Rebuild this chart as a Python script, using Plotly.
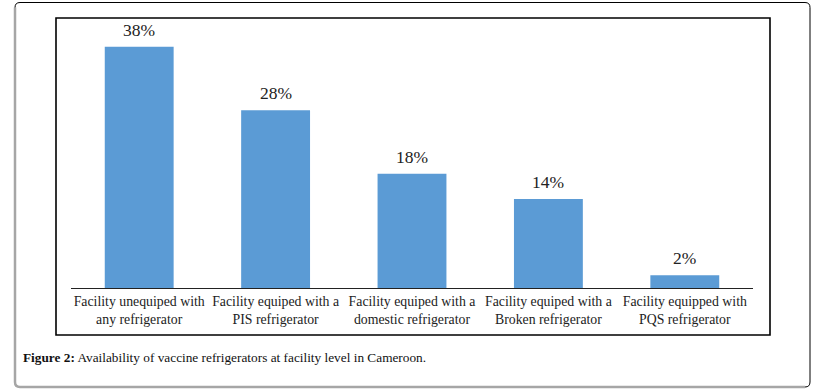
import plotly.graph_objects as go

categories = [
    "Facility unequiped with<br>any refrigerator",
    "Facility equiped with a<br>PIS refrigerator",
    "Facility equiped with a<br>domestic refrigerator",
    "Facility equiped with a<br>Broken refrigerator",
    "Facility equipped with<br>PQS refrigerator",
]
values = [38, 28, 18, 14, 2]
value_labels = ["38%", "28%", "18%", "14%", "2%"]
caption_bold = "Figure 2:"
caption_rest = " Availability of vaccine refrigerators at facility level in Cameroon."

W, H = 815, 391
ML, MR, MT, MB = 71, 62, 34, 103
PW, PH = W - ML - MR, H - MT - MB
BASE = H - MB


def px(x):
    return (x - ML) / PW


def py(y):
    return (BASE - y) / PH


fig = go.Figure()
fig.add_trace(go.Bar(
    x=list(range(len(categories))),
    y=values,
    marker=dict(color="#5B9BD5", line=dict(width=0)),
    width=0.505,
    hoverinfo="skip",
))

for i, (v, t) in enumerate(zip(values, value_labels)):
    fig.add_annotation(
        x=i, y=v, text=t, showarrow=False, yanchor="bottom", yshift=5,
        font=dict(family="Liberation Serif", size=17.5, color="#222222"),
    )

# caption
fig.add_annotation(
    xref="paper", yref="paper", x=px(21), y=py(357), xanchor="left", yanchor="middle",
    text="<b>" + caption_bold + "</b>" + caption_rest, showarrow=False,
    font=dict(family="Liberation Serif", size=13.3, color="#111111"),
)

shapes = []
# inner chart frame
shapes.append(dict(type="rect", xref="paper", yref="paper",
                   x0=px(56), x1=px(770), y0=py(335), y1=py(18),
                   line=dict(color="#000000", width=1.6), layer="below"))


def rounded_path(x0, y0, x1, y1, r):
    rx, ry = r / PW, r / PH
    X0, X1 = px(x0), px(x1)
    Y0, Y1 = py(y0), py(y1)  # Y0 top, Y1 bottom (paper)
    return (f"M {X0+rx},{Y0} L {X1-rx},{Y0} Q {X1},{Y0} {X1},{Y0-ry} "
            f"L {X1},{Y1+ry} Q {X1},{Y1} {X1-rx},{Y1} L {X0+rx},{Y1} "
            f"Q {X0},{Y1} {X0},{Y1+ry} L {X0},{Y0-ry} Q {X0},{Y0} {X0+rx},{Y0} Z")


shapes.append(dict(type="path", xref="paper", yref="paper",
                   path=rounded_path(15, 2.5, 810, 387, 5),
                   line=dict(color="#000000", width=1)))
# gray left & bottom edges
rx, ry = 5 / PW, 5 / PH
gl = (f"M {px(15)},{py(2.5)-ry} L {px(15)},{py(387)+ry} Q {px(15)},{py(387)} {px(15)+rx},{py(387)} "
      f"L {px(810)-rx},{py(387)}")
shapes.append(dict(type="path", xref="paper", yref="paper", path=gl,
                   line=dict(color="#A6A6A6", width=2.5)))

fig.update_layout(
    width=W, height=H,
    margin=dict(l=ML, r=MR, t=MT, b=MB, pad=0),
    paper_bgcolor="white", plot_bgcolor="white",
    showlegend=False,
    shapes=shapes,
    xaxis=dict(
        tickmode="array", tickvals=list(range(len(categories))), ticktext=categories,
        range=[-0.5, len(categories) - 0.5],
        showline=True, linecolor="#222222", linewidth=1.2,
        showgrid=False, zeroline=False, ticks="",
        tickfont=dict(family="Liberation Serif", size=13.8, color="#222222"),
        fixedrange=True,
    ),
    yaxis=dict(
        range=[0, 40], visible=False, fixedrange=True,
    ),
)

fig.write_html(
    "out.html",
    config={"displayModeBar": False},
    post_script="document.body.style.margin='0';document.body.style.padding='0';",
)
